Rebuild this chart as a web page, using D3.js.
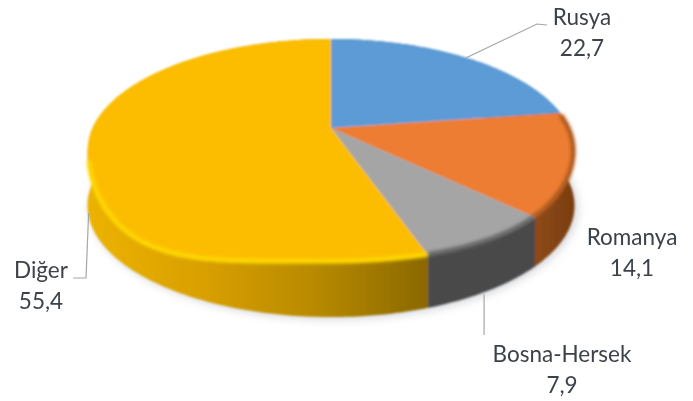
<!DOCTYPE html>
<html>
<head>
<meta charset="utf-8">
<script src="https://cdn.jsdelivr.net/npm/d3@7"></script>
<style>
  html, body { margin: 0; padding: 0; background: #fff; }
  svg { display: block; }
  text { font-family: Lato, "Open Sans", sans-serif; font-size: 22.5px; fill: #3c434a; text-anchor: middle; }
</style>
</head>
<body>
<div id="chart"></div>
<script>
// --- Data ---
const categories = ["Rusya", "Romanya", "Bosna-Hersek", "Diğer"];
const values = [22.7, 14.1, 7.9, 55.4];
const valueLabels = ["22,7", "14,1", "7,9", "55,4"];

// --- Colours ---
const topColors = ["#5b9bd5", "#ed7d31", "#a5a5a5", "#fcbd00"];
const rimColors = ["#5b9bd5", "#a9571c", "#626262", "#ffd900"];
const wallStops = [
  ["#3a6a96", "#3a6a96"],
  ["#8f4a16", "#7a3d10"],
  ["#4a4a4a", "#484848"],
  ["#ecb200", "#d9a000", "#b88a00", "#8a6800"],
];

// label placement: text centre, first baseline, elbow of the leader line
const labelLayout = [
  { x: 582, y: 25, path: (a) => [a, [537, 24], [547, 25]] },
  { x: 632, y: 245, path: null },
  { x: 562, y: 362, path: (a) => [[a[0] - 5, a[1] + 4], [a[0] - 5, 335]] },
  { x: 41, y: 278, path: (a) => [[a[0] + 1, 213], [86, 278], [73, 278]] },
];

const width = 693;
const height = 401;

// Perspective of the tilted disc
const cx = 331;
const cy = 128;
const scaleX = 238.5;
const scaleY = 107;
const tilt = -0.2018;
const depth = 55;
const sinkLeft = 22; // the rounded edge eats into the wall towards the sides
const sinkRight = 6;

function base(angle, r = 1) {
  const ux = r * Math.sin(angle);
  const uy = -r * Math.cos(angle);
  const w = 1 + tilt * uy;
  return [cx + (scaleX * ux) / w, cy + (scaleY * uy) / w];
}
function project(angle, r = 1) {
  const p = base(angle, r);
  const a = ((angle % (2 * Math.PI)) + 2 * Math.PI) % (2 * Math.PI);
  let sink = 0;
  if (a > Math.PI / 2 && a <= Math.PI) sink = sinkRight * Math.sin(2 * a) ** 2;
  if (a > Math.PI && a < 1.5 * Math.PI) sink = sinkLeft * Math.sin(2 * a) ** 2;
  return [p[0], p[1] + sink * r];
}
function projectLow(angle) {
  const p = base(angle);
  return [p[0], p[1] + depth];
}
function arcAngles(a0, a1) {
  const n = Math.max(2, Math.ceil((a1 - a0) * 60));
  return d3.range(n + 1).map((i) => a0 + ((a1 - a0) * i) / n);
}

const line = d3.line();
const pie = d3.pie().sort(null).value((d) => d);
const slices = pie(values);

const svg = d3.select("#chart").append("svg").attr("width", width).attr("height", height);
const defs = svg.append("defs");

[["soft", 0.9], ["textSoft", 0.45], ["rimBlur", 1.8], ["shadowBlur", 5]].forEach(([id, s]) => {
  defs.append("filter").attr("id", id)
    .attr("x", "-20%").attr("y", "-20%").attr("width", "140%").attr("height", "140%")
    .append("feGaussianBlur").attr("stdDeviation", s);
});

// Wall gradients run across the picture, per slice
slices.forEach((s, i) => {
  const a = arcAngles(s.startAngle, s.endAngle).map((t) => base(t)[0]);
  const g = defs.append("linearGradient").attr("id", "wall" + i)
    .attr("gradientUnits", "userSpaceOnUse")
    .attr("x1", d3.min(a)).attr("x2", d3.max(a)).attr("y1", 0).attr("y2", 0);
  wallStops[i].forEach((c, j) => {
    g.append("stop").attr("offset", j / (wallStops[i].length - 1)).attr("stop-color", c);
  });
});

// Shadow under the disc
const ring = arcAngles(0, 2 * Math.PI);
svg.append("path")
  .attr("d", line(ring.map(projectLow).map((p) => [p[0] + 3, p[1] + 2])) + "Z")
  .attr("fill", "#d4d6da")
  .attr("filter", "url(#shadowBlur)");

const pieG = svg.append("g").attr("filter", "url(#soft)");

// Side walls
pieG.selectAll("path.wall")
  .data(slices)
  .join("path")
  .attr("class", "wall")
  .attr("fill", (d, i) => `url(#wall${i})`)
  .attr("d", (d) => {
    const t = arcAngles(d.startAngle, d.endAngle);
    return line(t.map((a) => project(a)).concat(t.slice().reverse().map(projectLow))) + "Z";
  });

// Top faces
pieG.selectAll("path.face")
  .data(slices)
  .join("path")
  .attr("class", "face")
  .attr("fill", (d, i) => topColors[i])
  .attr("d", (d) => {
    const t = arcAngles(d.startAngle, d.endAngle);
    return line([[cx, cy]].concat(t.map((a) => project(a)))) + "Z";
  });

// Bevel along the front of the rim, only where the wall shows
const frontFrom = Math.PI * 0.46;
const frontTo = Math.PI * 1.42;
pieG.selectAll("path.rim")
  .data(slices)
  .join("path")
  .attr("class", "rim")
  .attr("fill", "none")
  .attr("stroke", (d, i) => rimColors[i])
  .attr("stroke-width", 4.5)
  .attr("filter", "url(#rimBlur)")
  .attr("d", (d) => {
    const a0 = Math.max(d.startAngle, frontFrom);
    const a1 = Math.min(d.endAngle, frontTo);
    return a1 > a0 ? line(arcAngles(a0, a1).map((a) => project(a, 0.995))) : null;
  });

// Leader lines
svg.selectAll("path.leader")
  .data(slices.filter((d, i) => labelLayout[i].path))
  .join("path")
  .attr("class", "leader")
  .attr("fill", "none")
  .attr("stroke", "#a6a6a6")
  .attr("stroke-width", 1.2)
  .attr("d", (d) => {
    const i = d.index;
    const mid = (d.startAngle + d.endAngle) / 2;
    const anchor = i === 0 ? base(mid) : projectLow(mid);
    return line(labelLayout[i].path(anchor));
  });

// Labels
const labels = svg.selectAll("g.label")
  .data(categories)
  .join("g")
  .attr("class", "label")
  .attr("filter", "url(#textSoft)");
labels.append("text").attr("x", (d, i) => labelLayout[i].x).attr("y", (d, i) => labelLayout[i].y).text((d) => d);
labels.append("text").attr("x", (d, i) => labelLayout[i].x).attr("y", (d, i) => labelLayout[i].y + 31).text((d, i) => valueLabels[i]);
</script>
</body>
</html>
